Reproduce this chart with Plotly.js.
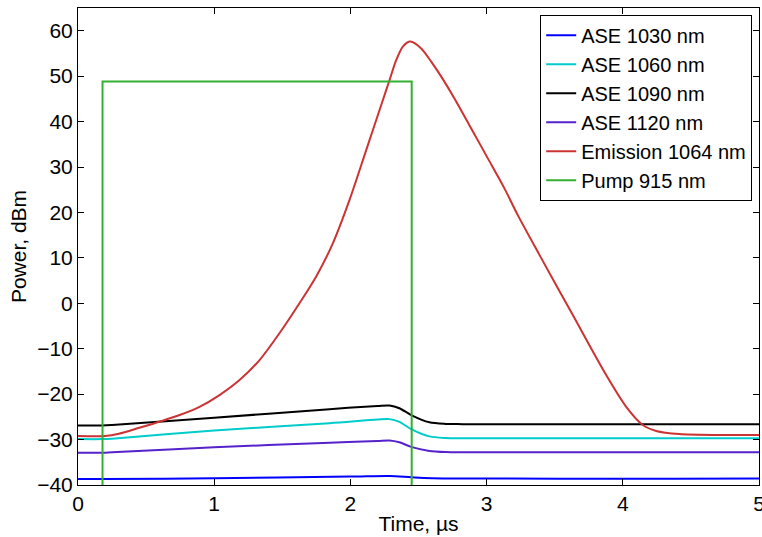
<!DOCTYPE html>
<html>
<head>
<meta charset="utf-8">
<script src="https://cdn.plot.ly/plotly-3.0.1.min.js"></script>
<style>html,body{margin:0;padding:0;background:#fff}#chart{width:762px;height:537px}</style>
</head>
<body>
<div id="chart"></div>
<script>
const ase1030X = [0, 0.18, 1.0, 2.0, 2.287, 2.45, 2.6, 5];
const ase1030Y = [-38.7, -38.7, -38.5, -38.15, -38.0, -38.3, -38.5, -38.55];

const ase1060X = [0, 0.18, 0.25, 1.0, 1.847, 2.2, 2.287, 2.36, 2.446, 2.58, 2.7, 2.825, 5];
const ase1060Y = [-29.9, -29.9, -29.8, -28.0, -26.4, -25.6, -25.5, -26.1, -27.7, -29.3, -29.65, -29.7, -29.7];

const ase1090X = [0, 0.18, 0.25, 1.0, 1.847, 2.2, 2.287, 2.36, 2.446, 2.58, 2.7, 2.825, 5];
const ase1090Y = [-26.9, -26.9, -26.8, -25.2, -23.3, -22.6, -22.5, -23.1, -24.6, -26.2, -26.55, -26.6, -26.6];

const ase1120X = [0, 0.18, 0.25, 1.0, 1.847, 2.2, 2.287, 2.36, 2.446, 2.58, 2.7, 2.825, 5];
const ase1120Y = [-32.9, -32.9, -32.8, -31.7, -30.7, -30.3, -30.2, -30.6, -31.6, -32.5, -32.75, -32.8, -32.8];

const emissionX = [0, 0.2, 0.3, 0.45, 0.615, 0.746, 0.892, 1.039, 1.186, 1.333, 1.479, 1.626, 1.749, 1.871, 1.993, 2.116, 2.238, 2.287, 2.336, 2.385, 2.44, 2.52, 2.593, 2.667, 2.764, 2.887, 3.009, 3.131, 3.229, 3.389, 3.633, 3.878, 4.025, 4.147, 4.245, 4.416, 4.7, 5];
const emissionY = [-29.2, -29.2, -28.7, -27.4, -25.9, -24.6, -22.8, -20.2, -16.9, -12.5, -6.6, 0.0, 5.9, 13.2, 22.7, 33.7, 44.7, 49.1, 53.5, 56.5, 57.6, 56.1, 53.2, 49.9, 45.1, 38.5, 31.9, 25.3, 19.4, 10.6, -2.6, -15.8, -22.8, -26.8, -28.1, -28.8, -29.0, -29.0];

const pumpX = [0.18, 0.18, 2.45, 2.45];
const pumpY = [-40, 48.8, 48.8, -40];

const xTicks = [0, 1, 2, 3, 4, 5];
const yTicks = [-40, -30, -20, -10, 0, 10, 20, 30, 40, 50, 60];

const FONT = '"Liberation Sans", Arial, Helvetica, sans-serif';
function tr(x, y, name, color, shape) {
  return {x: x, y: y, name: name, type: 'scatter', mode: 'lines',
    line: {color: color, width: 2, shape: shape, smoothing: 0.8}};
}
const data = [
  tr(ase1030X, ase1030Y, 'ASE 1030 nm', '#0000ff', 'spline'),
  tr(ase1060X, ase1060Y, 'ASE 1060 nm', '#00cccc', 'spline'),
  tr(ase1090X, ase1090Y, 'ASE 1090 nm', '#000000', 'spline'),
  tr(ase1120X, ase1120Y, 'ASE 1120 nm', '#5522cc', 'spline'),
  tr(emissionX, emissionY, 'Emission 1064 nm', '#cc3333', 'spline'),
  tr(pumpX, pumpY, 'Pump 915 nm', '#33b033', 'linear')
];
const axisCommon = {
  showgrid: false, zeroline: false, showline: true, linecolor: '#000', linewidth: 1,
  mirror: 'ticks', ticks: 'inside', ticklen: 6, tickwidth: 1, tickcolor: '#000',
  ticklabeloverflow: 'allow',
  tickfont: {family: FONT, size: 21, color: '#000'}
};
const layout = {
  width: 762, height: 537,
  margin: {l: 78, r: 3, t: 8, b: 52},
  paper_bgcolor: '#fff', plot_bgcolor: '#fff',
  font: {family: FONT, color: '#000'},
  showlegend: true,
  legend: {x: 0.99, xanchor: 'right', y: 0.986, yanchor: 'top',
    bgcolor: '#fff', bordercolor: '#000', borderwidth: 1,
    font: {family: FONT, size: 20, color: '#000'}, tracegroupgap: 0},
  xaxis: Object.assign({}, axisCommon, {
    range: [0, 5], tickvals: xTicks, ticktext: xTicks.map(String),
    title: {text: 'Time, µs', font: {family: FONT, size: 21}, standoff: 2}
  }),
  yaxis: Object.assign({}, axisCommon, {
    range: [-40, 65], tickvals: yTicks,
    title: {text: 'Power, dBm', font: {family: FONT, size: 21}, standoff: 4}
  })
};
Plotly.newPlot('chart', data, layout, {displayModeBar: false, staticPlot: true});
</script>
</body>
</html>
